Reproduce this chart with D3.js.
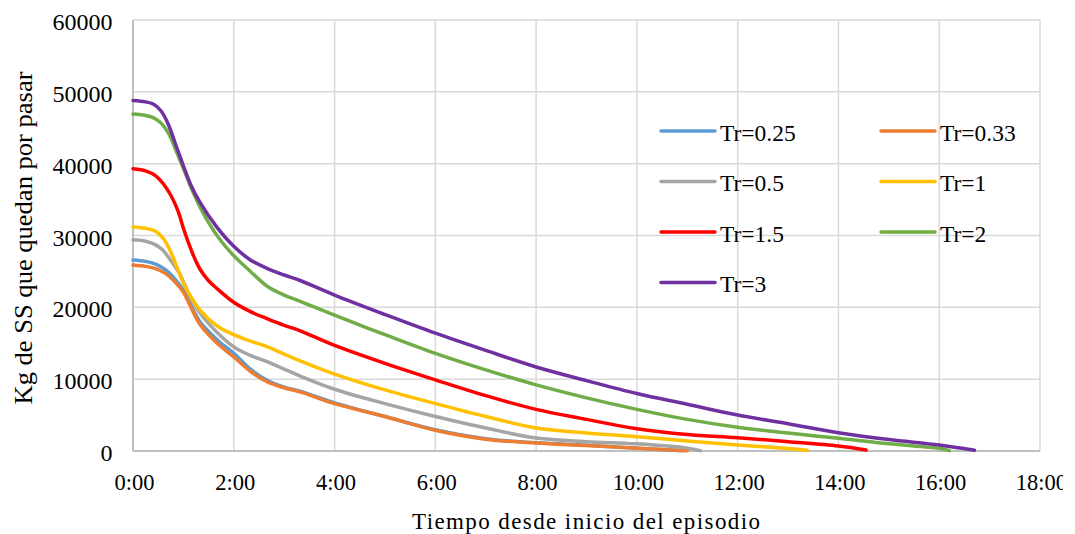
<!DOCTYPE html>
<html><head><meta charset="utf-8">
<script src="https://cdn.jsdelivr.net/npm/d3@7"></script>
<style>body{margin:0;background:#fff}svg{display:block}text{font-family:"Liberation Serif","Times New Roman",serif;fill:#000}</style>
</head><body><svg id="c" width="1075" height="534"></svg>
<script>
// time in hours, values in kg
const seriesNames = ["Tr=0.25","Tr=0.33","Tr=0.5","Tr=1","Tr=1.5","Tr=2","Tr=3"];
const seriesColors = ["#5B9BD5","#ED7D31","#A5A5A5","#FFC000","#FF0000","#70AD47","#7030A0"];
const tr025 = [[0,26600],[0.25,26400],[0.45,26000],[0.65,25200],[0.85,23800],[1,22400],[1.15,20300],[1.33,18000],[1.67,15500],[2,13600],[2.33,11400],[2.67,9800],[3,8900],[3.33,8300],[4,6700],[5,4800],[6,2950],[7,1700],[8,1150],[9,800],[10,400],[10.9,50]];
const tr033 = [[0,25900],[0.25,25700],[0.45,25400],[0.65,24700],[0.85,23400],[1,22100],[1.15,20000],[1.33,17600],[1.67,15000],[2,13100],[2.33,11100],[2.67,9600],[3,8800],[3.33,8200],[4,6600],[5,4800],[6,2900],[7,1650],[8,1100],[9,750],[10,380],[11,50]];
const tr05 = [[0,29400],[0.25,29200],[0.45,28700],[0.6,27900],[0.75,26500],[0.93,24600],[1.1,22000],[1.33,19200],[1.67,16500],[2,14500],[2.33,13300],[2.67,12400],[3,11400],[3.33,10400],[4,8600],[5,6600],[6,4800],[7,3200],[8,1800],[9,1300],[10,1000],[11,400],[11.26,50]];
const tr1 = [[0,31200],[0.25,31000],[0.45,30600],[0.6,29600],[0.75,27700],[0.9,25100],[1,23400],[1.13,21700],[1.33,19600],[1.67,17400],[2,16200],[2.33,15300],[2.67,14500],[3,13500],[3.33,12500],[4,10700],[5,8500],[6,6600],[7,4800],[8,3200],[9,2500],[10,2000],[11,1400],[12,850],[13,350],[13.38,100]];
const tr15 = [[0,39300],[0.25,39000],[0.45,38300],[0.6,37200],[0.75,35600],[0.9,33300],[1,31000],[1.1,29000],[1.2,27200],[1.33,25300],[1.5,23700],[1.67,22600],[2,20700],[2.33,19400],[2.67,18400],[3,17500],[3.33,16700],[4,14700],[5,12200],[6,9900],[7,7700],[8,5800],[9,4400],[10,3100],[11,2300],[12,1850],[13,1300],[14,700],[14.55,150]];
const tr2 = [[0,46900],[0.25,46700],[0.4,46400],[0.55,45700],[0.7,44300],[0.85,41900],[1,39300],[1.15,36700],[1.3,34400],[1.5,31800],[1.75,29200],[2,27200],[2.33,25000],[2.67,22900],[3,21700],[3.33,20800],[4,18900],[5,16200],[6,13600],[7,11300],[8,9200],[9,7400],[10,5800],[11,4400],[12,3300],[13,2500],[14,1770],[15,1000],[16,380],[16.2,50]];
const tr3 = [[0,48800],[0.25,48600],[0.4,48300],[0.55,47400],[0.7,45500],[0.85,42600],[1,39700],[1.15,37000],[1.33,34600],[1.66,31200],[2,28500],[2.33,26600],[2.67,25400],[3,24500],[3.33,23700],[4,21700],[5,19000],[6,16400],[7,14000],[8,11700],[9,9800],[10,8000],[11,6500],[12,5000],[13,3800],[14,2550],[15,1600],[16,830],[16.7,100]];
const seriesData = [tr025,tr033,tr05,tr1,tr15,tr2,tr3];
const xTicks = [0,2,4,6,8,10,12,14,16,18];
const xTickLabels = ["0:00","2:00","4:00","6:00","8:00","10:00","12:00","14:00","16:00","18:00"];
const yTicks = [0,10000,20000,30000,40000,50000,60000];
const xTitle = "Tiempo desde inicio del episodio";
const yTitle = "Kg de SS que quedan por pasar";

const svg = d3.select("#c");
svg.append("defs").append("clipPath").attr("id","area").append("rect")
  .attr("x",0).attr("y",0).attr("width",1063).attr("height",534);
const root = svg.append("g").attr("clip-path","url(#area)");
const L=133, R=1040, T=20, B=451;
const x = d3.scaleLinear().domain([0,18]).range([L,R]);
const y = d3.scaleLinear().domain([0,60000]).range([B,T]);

const grid = root.append("g");
grid.selectAll(".gx").data(xTicks).join("line")
  .attr("x1",d=>x(d)).attr("x2",d=>x(d)).attr("y1",T).attr("y2",B)
  .attr("stroke","#d9d9d9").attr("stroke-width",1.5);
grid.selectAll(".gy").data(yTicks).join("line").attr("class","gy")
  .attr("x1",L).attr("x2",R).attr("y1",d=>y(d)).attr("y2",d=>y(d))
  .attr("stroke","#d9d9d9").attr("stroke-width",1.5);
root.append("line").attr("x1",L).attr("x2",L).attr("y1",T).attr("y2",B).attr("stroke","#bfbfbf").attr("stroke-width",2);
root.append("line").attr("x1",L).attr("x2",R).attr("y1",B).attr("y2",B).attr("stroke","#bfbfbf").attr("stroke-width",2);

// tick labels
root.append("g").selectAll("text").data(yTicks).join("text")
  .attr("x",112.5).attr("y",d=>y(d)+10).attr("text-anchor","end")
  .attr("font-size",24).text(d=>d);
root.append("g").selectAll("text").data(xTicks).join("text")
  .attr("x",d=>x(d)+1.5).attr("y",490).attr("text-anchor","middle")
  .attr("font-size",22.5).text((d,i)=>xTickLabels[i]);

// titles
root.append("text").attr("x",586).attr("y",529).attr("text-anchor","middle").attr("font-size",23)
  .attr("textLength",348).attr("lengthAdjust","spacing").text(xTitle);
root.append("text").attr("transform","translate(32,238) rotate(-90)").attr("text-anchor","middle").attr("font-size",26)
  .attr("textLength",333).attr("lengthAdjust","spacingAndGlyphs").text(yTitle);

// lines
const line = d3.line().x(d=>x(d[0])).y(d=>y(d[1])).curve(d3.curveCatmullRom.alpha(0.5));
root.append("g").selectAll("path").data(seriesData).join("path")
  .attr("d",line).attr("fill","none")
  .attr("stroke",(d,i)=>seriesColors[i]).attr("stroke-width",3.5)
  .attr("stroke-linejoin","round").attr("stroke-linecap","round");

// legend
const lg = root.append("g");
seriesNames.forEach((n,i)=>{
  const col=i%2,row=Math.floor(i/2);
  const lx = col===0?661:881, ly = 131+row*50.5;
  lg.append("line").attr("x1",lx).attr("x2",lx+54).attr("y1",ly).attr("y2",ly)
    .attr("stroke",seriesColors[i]).attr("stroke-width",3.5).attr("stroke-linecap","round");
  lg.append("text").attr("x",lx+59).attr("y",ly+9.5).attr("font-size",23.5).text(n);
});
</script></body></html>
